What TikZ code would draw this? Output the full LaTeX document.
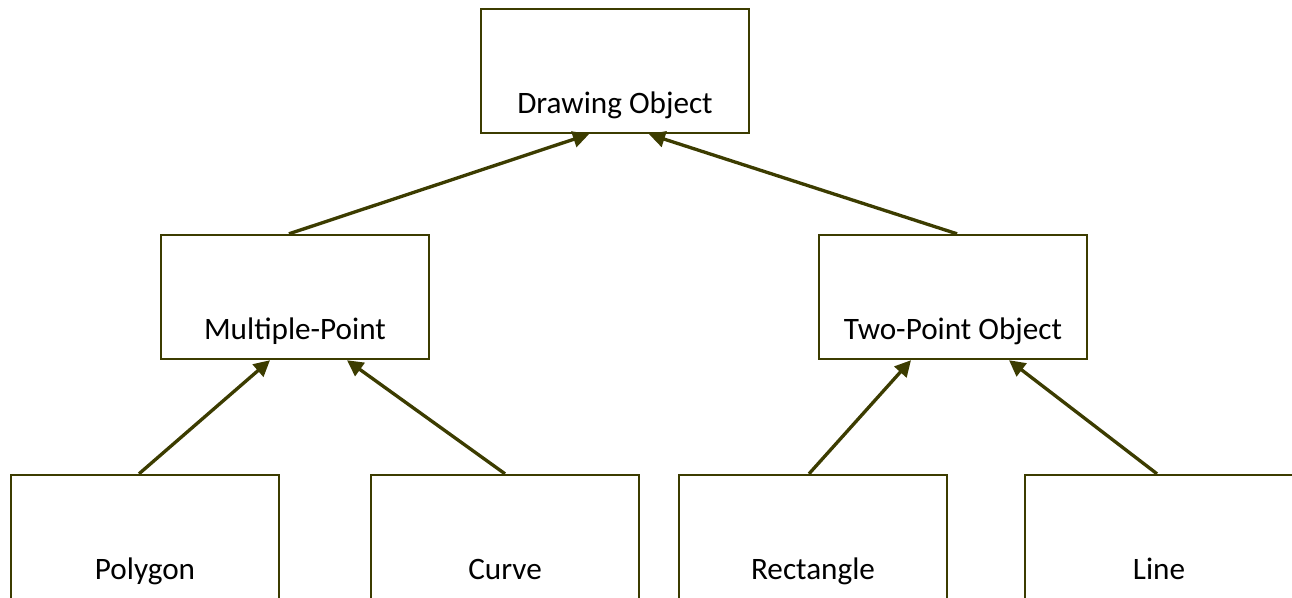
\documentclass[tikz,border=0pt]{standalone}
\usepackage{fontspec}
\setmainfont{Carlito}
\usetikzlibrary{arrows.meta,calc}
\definecolor{olivedark}{RGB}{60,60,0}
\tikzset{
  box/.style={draw=olivedark,line width=1.8pt,rectangle,inner sep=0pt,
    minimum width=201pt,minimum height=93pt},
  lbl/.style={anchor=base,inner sep=0pt,font=\fontsize{23.4}{28}\selectfont,text=black},
  arr/.style={draw=olivedark,line width=2.5pt,-{Triangle[length=12pt,width=12pt]}}
}
\begin{document}
\begin{tikzpicture}[x=0.75pt,y=-0.75pt]
\useasboundingbox (0,0) rectangle (1292,597);
\clip (0,0) rectangle (1292,597);
\node[box] (do) at (615,71) {};
\node[box] (mp) at (295,297) {};
\node[box] (tp) at (953,297) {};
\node[box] (pg) at (145,537) {};
\node[box] (cv) at (505,537) {};
\node[box] (rc) at (813,537) {};
\node[box] (ln) at (1159,537) {};
\node[lbl] (tdo) at (615,113) {Drawing Object};
\node[lbl] (tmp) at (295,339) {Multiple-Point};
\node[lbl] (ttp) at (953,339) {Two-Point Object};
\node[lbl] (tpg) at (145,579) {Polygon};
\node[lbl] (tcv) at (505,579) {Curve};
\node[lbl] (trc) at (813,579) {Rectangle};
\node[lbl] (tln) at (1159,579) {Line};
\draw[arr] ($(mp.north)+(-6,0)$) -- ($(do.south)+(-26,0)$);
\draw[arr] ($(tp.north)+(4,0)$) -- ($(do.south)+(34,0)$);
\draw[arr] ($(pg.north)+(-6,0)$) -- ($(mp.south)+(-25,0)$);
\draw[arr] ($(cv.north)+(0,0)$) -- ($(mp.south)+(52,0)$);
\draw[arr] ($(rc.north)+(-4,0)$) -- ($(tp.south)+(-42,0)$);
\draw[arr] ($(ln.north)+(-2,0)$) -- ($(tp.south)+(56,0)$);
\end{tikzpicture}
\end{document}
